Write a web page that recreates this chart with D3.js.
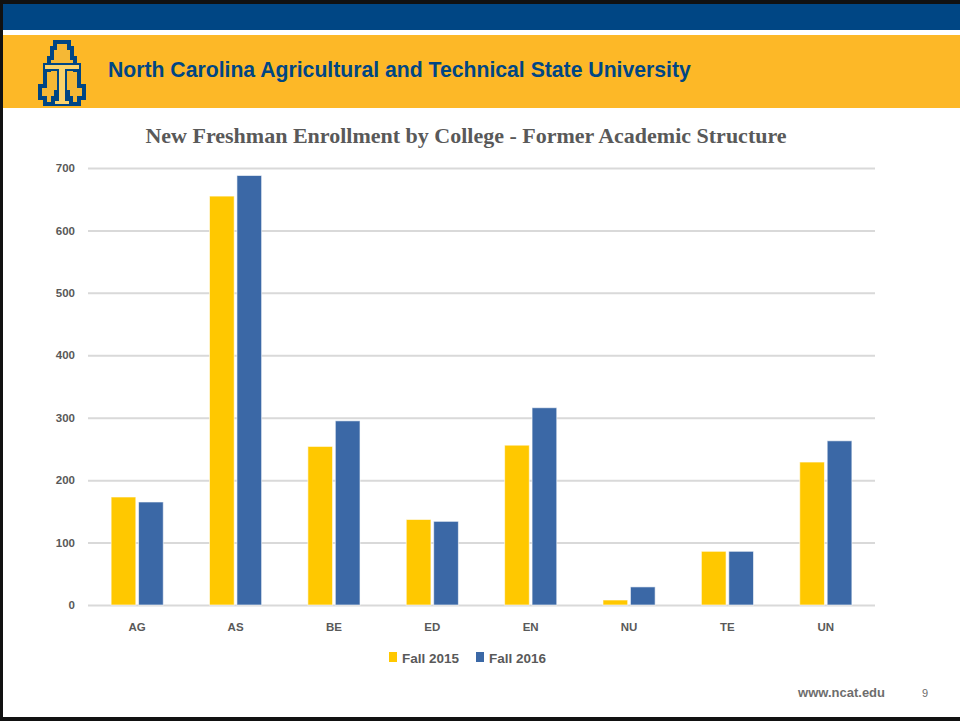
<!doctype html>
<html>
<head>
<meta charset="utf-8"/>
<title>New Freshman Enrollment by College</title>
<script src="https://d3js.org/d3.v7.min.js"></script>
<style>
  body { margin: 0; background: #fff; }
  svg { display: block; }
</style>
</head>
<body>
<div id="chart"></div>
<script>
  // data
  var colleges = ["AG", "AS", "BE", "ED", "EN", "NU", "TE", "UN"];
  var fall2015 = [173, 655, 254, 137, 256, 8, 86, 229];
  var fall2016 = [165, 688, 295, 134, 316, 29, 86, 263];
  var seriesNames = ["Fall 2015", "Fall 2016"];
  var yTicks = [0, 100, 200, 300, 400, 500, 600, 700];

  var W = 960, H = 721;
  var svg = d3.select("#chart").append("svg")
      .attr("width", W)
      .attr("height", H);

  // slide frame and header bands
  svg.append("rect").attr("x", 0).attr("y", 0).attr("width", W).attr("height", H).attr("fill", "#fff");
  svg.append("rect").attr("x", 0).attr("y", 0).attr("width", W).attr("height", 4).attr("fill", "#111");
  svg.append("rect").attr("x", 0).attr("y", 4).attr("width", W).attr("height", 26).attr("fill", "#004684");
  svg.append("rect").attr("x", 0).attr("y", 35).attr("width", W).attr("height", 73).attr("fill", "#FDB827");
  svg.append("rect").attr("x", 0).attr("y", 0).attr("width", 3).attr("height", H).attr("fill", "#111");
  svg.append("rect").attr("x", 0).attr("y", 717).attr("width", W).attr("height", 4).attr("fill", "#111");

  // logo: stepped A with a T across it
  var logo = svg.append("g").attr("transform", "translate(38,42)");
  var aPath = "M17,0 L31,0 L31,6 L34,6 L34,16 L37,16 L37,28 L41,28 L41,44 L46,44 L46,56 L41,56 L41,62 L33,62 L33,56 L30,56 L30,50 L18,50 L18,56 L15,56 L15,62 L7,62 L7,56 L2,56 L2,44 L7,44 L7,28 L11,28 L11,16 L14,16 L14,6 L17,6 Z";
  logo.append("path").attr("d", aPath)
      .attr("fill", "#F5B835").attr("stroke", "#004684").attr("stroke-width", 4)
      .attr("stroke-linejoin", "miter");
  logo.append("path")
      .attr("d", "M6,22 L42,22 L42,28 L28,28 L28,58 L32,58 L32,63 L16,63 L16,58 L20,58 L20,28 L6,28 Z")
      .attr("fill", "#FBD36B").attr("stroke", "#004684").attr("stroke-width", 2);

  svg.append("text")
      .attr("x", 108).attr("y", 77)
      .attr("font-family", "Liberation Sans, Arial, sans-serif")
      .attr("font-weight", "bold")
      .attr("font-size", 21.2)
      .attr("fill", "#004684")
      .text("North Carolina Agricultural and Technical State University");

  // chart
  var x0 = d3.scaleBand().domain(colleges).range([88, 875]).paddingInner(0.47).paddingOuter(0.235);
  var x1 = d3.scaleBand().domain(seriesNames).range([0, x0.bandwidth()]).paddingInner(0.1);
  var y = d3.scaleLinear().domain([0, 700]).range([605, 168]);
  var colors = d3.scaleOrdinal().domain(seriesNames).range(["#FFC800", "#3B68A6"]);

  svg.append("text")
      .attr("x", 466).attr("y", 143)
      .attr("text-anchor", "middle")
      .attr("font-family", "Liberation Serif, DejaVu Serif, serif")
      .attr("font-weight", "bold")
      .attr("font-size", 22)
      .attr("fill", "#595959")
      .text("New Freshman Enrollment by College - Former Academic Structure");

  var yAxis = svg.append("g")
      .attr("transform", "translate(88,0)")
      .call(d3.axisLeft(y).tickValues(yTicks).tickSize(-787).tickPadding(13));
  yAxis.select(".domain").remove();
  yAxis.selectAll("line").attr("stroke", "#d9d9d9").attr("stroke-width", 2);
  yAxis.selectAll("text")
      .attr("font-family", "Liberation Sans, Arial, sans-serif")
      .attr("font-weight", "bold")
      .attr("font-size", 11.5)
      .attr("fill", "#595959");

  var rows = colleges.map(function (c, i) {
    return { college: c, values: [fall2015[i], fall2016[i]] };
  });

  var groups = svg.append("g").selectAll("g")
      .data(rows).enter().append("g")
      .attr("transform", function (d) { return "translate(" + x0(d.college) + ",0)"; });

  groups.selectAll("rect")
      .data(function (d) { return d.values.map(function (v, k) { return { name: seriesNames[k], value: v }; }); })
      .enter().append("rect")
      .attr("x", function (d) { return x1(d.name); })
      .attr("y", function (d) { return y(d.value); })
      .attr("width", x1.bandwidth())
      .attr("height", function (d) { return y(0) - y(d.value); })
      .attr("fill", function (d) { return colors(d.name); })
      .attr("stroke", "rgba(255,255,255,0.6)")
      .attr("stroke-width", 1);

  var xAxis = svg.append("g")
      .attr("transform", "translate(0,605)")
      .call(d3.axisBottom(x0).tickSize(0).tickPadding(18));
  xAxis.select(".domain").remove();
  xAxis.selectAll("text")
      .attr("font-family", "Liberation Sans, Arial, sans-serif")
      .attr("font-weight", "bold")
      .attr("font-size", 11.5)
      .attr("fill", "#595959");

  // legend
  var legendX = [389, 476];
  var legend = svg.append("g").selectAll("g")
      .data(seriesNames).enter().append("g")
      .attr("transform", function (d, i) { return "translate(" + legendX[i] + ",652)"; });
  legend.append("rect").attr("width", 8).attr("height", 10).attr("fill", function (d) { return colors(d); });
  legend.append("text")
      .attr("x", 13).attr("y", 10.5)
      .attr("font-family", "Liberation Sans, Arial, sans-serif")
      .attr("font-weight", "bold")
      .attr("font-size", 13.5)
      .attr("fill", "#595959")
      .text(function (d) { return d; });

  // footer
  svg.append("text")
      .attr("x", 885).attr("y", 697)
      .attr("text-anchor", "end")
      .attr("font-family", "Liberation Sans, Arial, sans-serif")
      .attr("font-weight", "bold")
      .attr("font-size", 13)
      .attr("fill", "#6d6d6d")
      .text("www.ncat.edu");
  svg.append("text")
      .attr("x", 925).attr("y", 697)
      .attr("text-anchor", "middle")
      .attr("font-family", "Liberation Sans, Arial, sans-serif")
      .attr("font-size", 11)
      .attr("fill", "#6d6d6d")
      .text("9");
</script>
</body>
</html>
